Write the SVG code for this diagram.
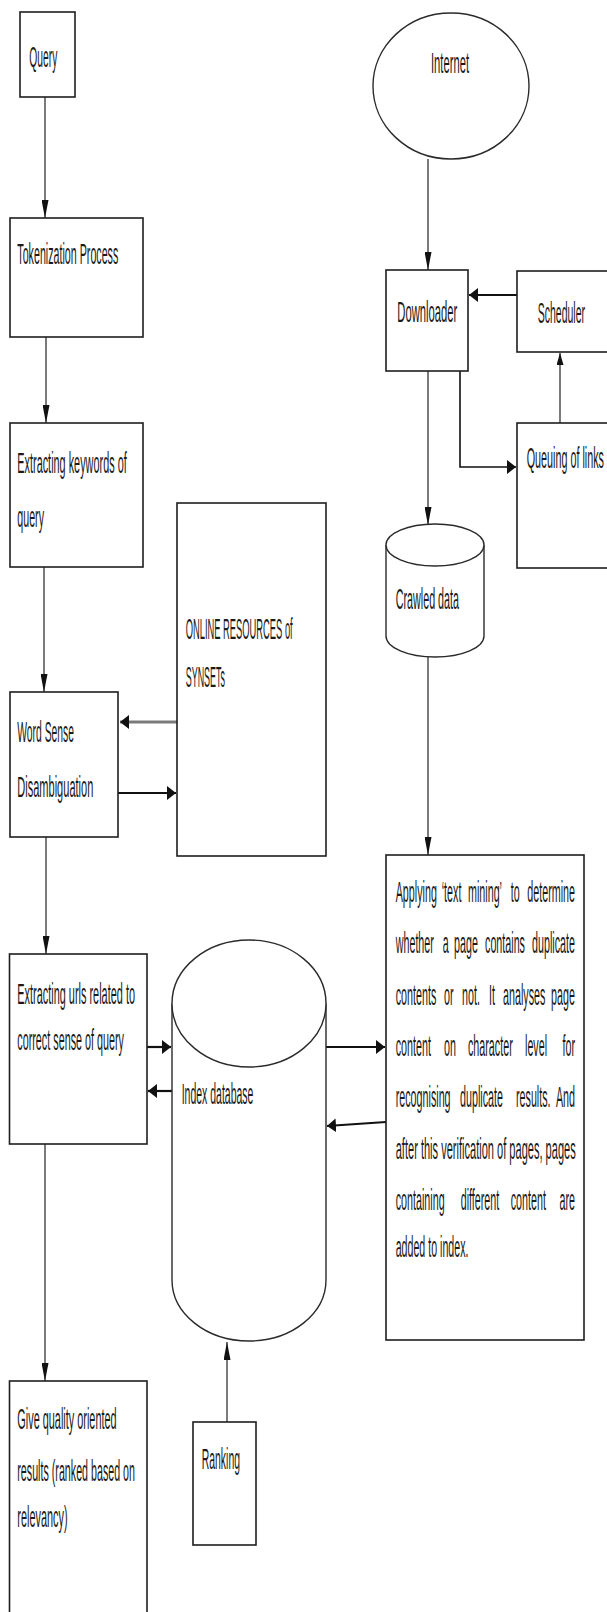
<svg xmlns="http://www.w3.org/2000/svg" width="607" height="1612" viewBox="0 0 607 1612">
<style>
.box{fill:#fff;stroke:#1e1e1e;stroke-width:1.6}
.shape{fill:#fff;stroke:#2a2a2a;stroke-width:1.4}
.t{font-family:"Liberation Sans",Arial,sans-serif;font-size:29px;fill:#1a1a1a}
.c{fill:none;stroke:#222;stroke-width:1.2}
.k{fill:none;stroke:#111;stroke-width:2.2}
.g{fill:none;stroke:#7a7a7a;stroke-width:3.2}
</style>
<defs>
<marker id="av" viewBox="0 0 18 7" refX="18" refY="3.5" markerWidth="18" markerHeight="7" markerUnits="userSpaceOnUse" orient="auto"><path d="M0,0 L18,3.5 L0,7 z" fill="#111"/></marker>
<marker id="as" viewBox="0 0 12 7" refX="12" refY="3.5" markerWidth="12" markerHeight="7" markerUnits="userSpaceOnUse" orient="auto"><path d="M0,0 L12,3.5 L0,7 z" fill="#111"/></marker>
<marker id="ah" viewBox="0 0 9 14" refX="9" refY="7" markerWidth="9" markerHeight="14" markerUnits="userSpaceOnUse" orient="auto"><path d="M0,0 L9,7 L0,14 z" fill="#111"/></marker>
</defs>

<g id="connectors">
<line class="c" x1="45" y1="97" x2="45" y2="218" marker-end="url(#av)"/>
<line class="c" x1="46" y1="337" x2="46" y2="423" marker-end="url(#av)"/>
<line class="c" x1="44" y1="567" x2="44" y2="692" marker-end="url(#av)"/>
<line class="c" x1="46" y1="837" x2="46" y2="954" marker-end="url(#av)"/>
<line class="c" x1="45" y1="1144" x2="45" y2="1381" marker-end="url(#av)"/>
<line class="g" x1="177" y1="722" x2="120" y2="722" marker-end="url(#ah)"/>
<line class="k" x1="118" y1="793" x2="176" y2="793" marker-end="url(#ah)"/>
<line class="c" x1="428" y1="159" x2="428" y2="270" marker-end="url(#av)"/>
<line class="k" x1="517" y1="295" x2="469" y2="295" marker-end="url(#ah)"/>
<line class="c" x1="560" y1="423" x2="560" y2="353" marker-end="url(#as)"/>
<line class="c" x1="428" y1="371" x2="428" y2="525" marker-end="url(#av)"/>
<path class="k" style="stroke-width:1.6" d="M460,371 V467 H516" marker-end="url(#ah)"/>
<line class="c" x1="428" y1="657" x2="428" y2="855" marker-end="url(#av)"/>
<line class="k" x1="147" y1="1047" x2="171" y2="1047" marker-end="url(#ah)"/>
<line class="k" x1="172" y1="1091" x2="148" y2="1091" marker-end="url(#ah)"/>
<line class="k" x1="326" y1="1047" x2="385" y2="1047" marker-end="url(#ah)"/>
<line class="k" x1="386" y1="1122" x2="327" y2="1126" marker-end="url(#ah)"/>
<line class="c" x1="227" y1="1422" x2="227" y2="1342" marker-end="url(#av)"/>
</g>

<g id="query">
<rect class="box" x="20" y="12" width="55" height="85"/>
<text class="t" transform="translate(29.3,67) scale(0.37,1)" textLength="75.7" lengthAdjust="spacingAndGlyphs">Query</text>
</g>

<g id="tokenization">
<rect class="box" x="10" y="218" width="133" height="119"/>
<text class="t" transform="translate(17.3,264) scale(0.37,1)" textLength="273" lengthAdjust="spacingAndGlyphs">Tokenization Process</text>
</g>

<g id="extracting-keywords">
<rect class="box" x="10" y="423" width="133" height="144"/>
<text class="t" transform="translate(17.3,473) scale(0.37,1)" textLength="295.7" lengthAdjust="spacingAndGlyphs">Extracting keywords of</text>
<text class="t" transform="translate(17.3,527) scale(0.37,1)" textLength="72.2" lengthAdjust="spacingAndGlyphs">query</text>
</g>

<g id="wsd">
<rect class="box" x="10" y="692" width="108" height="145"/>
<text class="t" transform="translate(17.3,742) scale(0.37,1)" textLength="153.2" lengthAdjust="spacingAndGlyphs">Word Sense</text>
<text class="t" transform="translate(17.3,797) scale(0.37,1)" textLength="205.4" lengthAdjust="spacingAndGlyphs">Disambiguation</text>
</g>

<g id="online-resources">
<rect class="box" x="177" y="503" width="149" height="353"/>
<text class="t" transform="translate(185.7,639) scale(0.37,1)" textLength="289.2" lengthAdjust="spacingAndGlyphs">ONLINE RESOURCES of</text>
<text class="t" transform="translate(185.7,687) scale(0.37,1)" textLength="106.2" lengthAdjust="spacingAndGlyphs">SYNSETs</text>
</g>

<g id="extracting-urls">
<rect class="box" x="9.5" y="954" width="137.5" height="190"/>
<text class="t" transform="translate(17.3,1004) scale(0.37,1)" textLength="318.1" lengthAdjust="spacingAndGlyphs">Extracting urls related to</text>
<text class="t" transform="translate(17.3,1050) scale(0.37,1)" textLength="288.4" lengthAdjust="spacingAndGlyphs">correct sense of query</text>
</g>

<g id="give-quality">
<rect class="box" x="9.5" y="1381" width="137.5" height="245"/>
<text class="t" transform="translate(17.3,1429) scale(0.37,1)" textLength="268.4" lengthAdjust="spacingAndGlyphs">Give quality oriented</text>
<text class="t" transform="translate(17.3,1481) scale(0.37,1)" textLength="318.1" lengthAdjust="spacingAndGlyphs">results (ranked based on</text>
<text class="t" transform="translate(17.3,1527) scale(0.37,1)" textLength="135.9" lengthAdjust="spacingAndGlyphs">relevancy)</text>
</g>

<g id="index-database">
<path class="shape" d="M172,1003.5 V1280 A77,61 0 0 0 326,1280 V1003.5"/>
<ellipse class="shape" cx="249" cy="1003.5" rx="77" ry="63.5"/>
<text class="t" transform="translate(181.7,1104) scale(0.37,1)" textLength="193.8" lengthAdjust="spacingAndGlyphs">Index database</text>
</g>

<g id="ranking">
<rect class="box" x="193" y="1422" width="63" height="123"/>
<text class="t" transform="translate(201.7,1469) scale(0.37,1)" textLength="103.5" lengthAdjust="spacingAndGlyphs">Ranking</text>
</g>

<g id="internet">
<ellipse class="shape" cx="451" cy="86" rx="78" ry="73"/>
<text class="t" transform="translate(431,73) scale(0.37,1)" textLength="102.7" lengthAdjust="spacingAndGlyphs">Internet</text>
</g>

<g id="downloader">
<rect class="box" x="386" y="270" width="82" height="101"/>
<text class="t" transform="translate(397.3,322) scale(0.37,1)" textLength="162.2" lengthAdjust="spacingAndGlyphs">Downloader</text>
</g>

<g id="scheduler">
<rect class="box" x="517" y="271" width="92" height="81"/>
<text class="t" transform="translate(537.7,323) scale(0.37,1)" textLength="127.8" lengthAdjust="spacingAndGlyphs">Scheduler</text>
</g>

<g id="queuing">
<rect class="box" x="517" y="423" width="92" height="145"/>
<text class="t" transform="translate(526.7,468) scale(0.37,1)" textLength="208.9" lengthAdjust="spacingAndGlyphs">Queuing of links</text>
</g>

<g id="crawled-data">
<path class="shape" d="M386,545 V636 A49,21 0 0 0 484,636 V545"/>
<ellipse class="shape" cx="435" cy="545" rx="49" ry="21"/>
<text class="t" transform="translate(395.7,609) scale(0.37,1)" textLength="171.1" lengthAdjust="spacingAndGlyphs">Crawled data</text>
</g>

<g id="text-mining">
<rect class="box" x="386" y="855" width="198" height="485"/>
<text class="t" transform="translate(395.7,902) scale(0.37,1)"><tspan x="0">Applying </tspan><tspan x="124.3">‘text </tspan><tspan x="195.4">mining’ </tspan><tspan x="310.8">to </tspan><tspan x="355.7">determine</tspan></text>
<text class="t" transform="translate(395.7,953) scale(0.37,1)"><tspan x="0">whether </tspan><tspan x="127">a </tspan><tspan x="157.6">page </tspan><tspan x="241.4">contains </tspan><tspan x="368.6">duplicate</tspan></text>
<text class="t" transform="translate(395.7,1005) scale(0.37,1)"><tspan x="0">contents </tspan><tspan x="130.5">or </tspan><tspan x="179.2">not. </tspan><tspan x="252.2">It </tspan><tspan x="290">analyses </tspan><tspan x="420">page</tspan></text>
<text class="t" transform="translate(395.7,1056) scale(0.37,1)"><tspan x="0">content </tspan><tspan x="130.5">on </tspan><tspan x="195.4">character </tspan><tspan x="349.5">level </tspan><tspan x="450.8">for</tspan></text>
<text class="t" transform="translate(395.7,1107) scale(0.37,1)"><tspan x="0">recognising </tspan><tspan x="173.8">duplicate </tspan><tspan x="325.1">results. </tspan><tspan x="433">And</tspan></text>
<text class="t" transform="translate(395.7,1159) scale(0.37,1)" textLength="486.5" lengthAdjust="spacingAndGlyphs">after this verification of pages, pages</text>
<text class="t" transform="translate(395.7,1210) scale(0.37,1)"><tspan x="0">containing </tspan><tspan x="175.7">different </tspan><tspan x="310.8">content </tspan><tspan x="442.7">are</tspan></text>
<text class="t" transform="translate(395.7,1257) scale(0.37,1)" textLength="196.5" lengthAdjust="spacingAndGlyphs">added to index.</text>
</g>
</svg>
